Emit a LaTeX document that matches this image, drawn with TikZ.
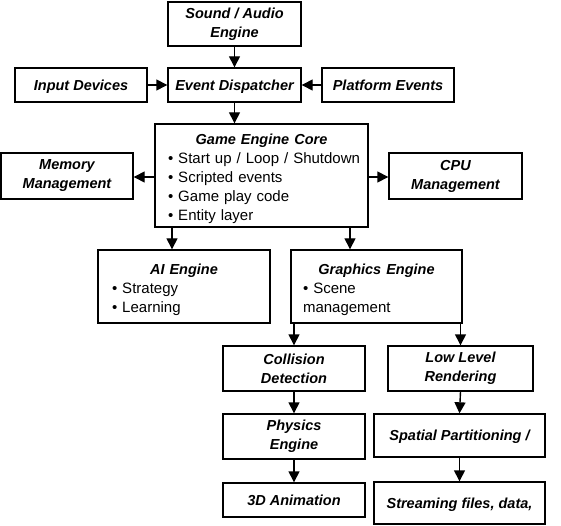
\documentclass[tikz,border=0pt]{standalone}
\usepackage{fontspec}
\setmainfont{Liberation Sans}
\usetikzlibrary{arrows.meta}
\newcommand\bi{\bfseries\itshape}
\hfuzz=100pt
\hbadness=10000
\begin{document}
\begin{tikzpicture}[x=1pt,y=-1pt,
  box/.style={draw, line width=1.4pt, inner sep=0pt, align=center,
    font=\fontsize{14.5}{19}\selectfont\bi},
  one/.style={text height=10.4pt, text depth=0pt},
  listbox/.style={draw, line width=1.4pt, inner ysep=0pt, align=left,
    font=\fontsize{15}{19}\selectfont},
  arr/.style={line width=1.4pt, -{Triangle[length=11pt,width=11pt]}}]
\useasboundingbox (0,0) rectangle (561,526);
% boxes
\node[box, minimum width=133, minimum height=44] (sound) at (234.5,24) {Sound / Audio\\Engine};
\node[box, one, minimum width=132, minimum height=34] (input) at (81,85) {Input Devices};
\node[box, one, minimum width=133, minimum height=34] (event) at (234.5,85) {Event Dispatcher};
\node[box, one, minimum width=132, minimum height=34] (platform) at (388,85) {Platform Events};
\node[listbox, minimum width=213, minimum height=103, inner xsep=13pt, text width=187pt] (core) at (261.5,175.5)
  {\rule{0pt}{18pt}\makebox[187pt]{\fontsize{14.5}{19}\selectfont\bi Game Engine Core}\\
   \mbox{• Start up / Loop / Shutdown}\\ • Scripted events\\ • Game play code\\ • Entity layer};
\node[box, minimum width=132, minimum height=46] (memory) at (67,176) {Memory\\Management};
\node[box, minimum width=133, minimum height=46] (cpu) at (455.5,176) {CPU\\Management};
\node[listbox, minimum width=172, minimum height=73, inner xsep=14pt, text width=144pt] (ai) at (184,286.5)
  {\rule{0pt}{18pt}\makebox[144pt]{\fontsize{14.5}{19}\selectfont\bi AI Engine}\\ • Strategy\\ • Learning};
\node[listbox, minimum width=171, minimum height=73, inner xsep=12pt, text width=147pt] (graphics) at (376.5,286.5)
  {\rule{0pt}{18pt}\makebox[147pt]{\fontsize{14.5}{19}\selectfont\bi Graphics Engine}\\ • Scene\\management};
\node[box, minimum width=142, minimum height=45] (collision) at (294,368.5) {Collision\\Detection};
\node[box, minimum width=145, minimum height=45] (low) at (460.5,368.5) {Low Level\\Rendering};
\node[box, minimum width=142, minimum height=45] (physics) at (294,436.5) {Physics\\Engine};
\node[box, one, minimum width=171, minimum height=43] (spatial) at (459.5,435.5) {Spatial Partitioning /};
\node[box, one, minimum width=142, minimum height=34] (anim) at (294,500) {3D Animation};
\node[box, one, minimum width=171, minimum height=42] (stream) at (459.5,503) {Streaming files, data,};
% helper coordinates
\coordinate (ax) at (172,0);
\coordinate (gx) at (350,0);
\coordinate (my) at (0,177);
% connectors
\draw[arr] (sound.south) -- (event.north);
\draw[arr] (input.east) -- (event.west);
\draw[arr] (platform.west) -- (event.east);
\draw[arr] (event.south) -- (event.south |- core.north);
\draw[arr] (core.west |- my) -- (memory.east |- my);
\draw[arr] (core.east |- my) -- (cpu.west |- my);
\draw[arr] (core.south -| ax) -- (ai.north -| ax);
\draw[arr] (core.south -| gx) -- (graphics.north -| gx);
\draw[arr] (graphics.south -| collision.north) -- (collision.north);
\draw[arr] (graphics.south -| low.north) -- (low.north);
\draw[arr] (collision.south) -- (physics.north);
\draw[arr] (physics.south) -- (anim.north);
\draw[arr] (low.south) -- (spatial.north);
\draw[arr] (spatial.south) -- (stream.north);
\end{tikzpicture}
\end{document}
